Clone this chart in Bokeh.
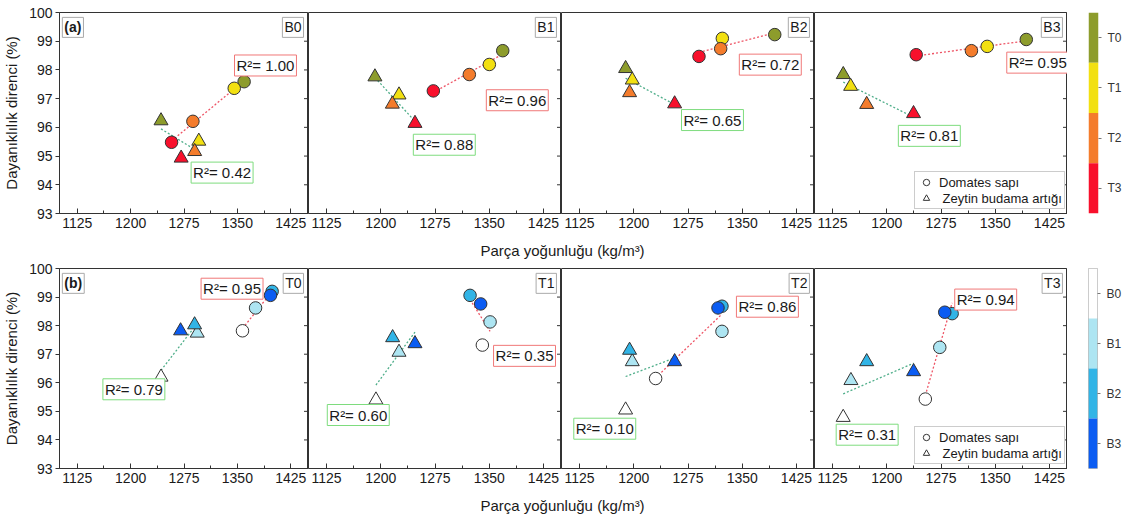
import numpy as np
from bokeh.plotting import figure
from bokeh.models import Range1d, FixedTicker, Label, Legend, LegendItem, FactorRange
from bokeh.layouts import row, column
from bokeh.embed import file_html
from bokeh.resources import INLINE

FONT = "Liberation Sans"

# ---------------- data ----------------
x_ticks = [1125, 1200, 1275, 1350, 1425]
y_ticks = [93, 94, 95, 96, 97, 98, 99, 100]
x_title = "Parça yoğunluğu (kg/m³)"
y_title = "Dayanıklılık direnci (%)"
legend_labels = ["Domates sapı", "Zeytin budama artığı"]

# row (a): panels by B level, points coloured by T level (T0..T3)
a_panels = ["B0", "B1", "B2", "B3"]
a_levels = ["T0", "T1", "T2", "T3"]
a_colors = ["#8D9C2C", "#F2E011", "#F47C2C", "#F8102C"]
a_circ_x = [[1359.5, 1345.6, 1287.5, 1257.5],
            [1368.7, 1350.2, 1322.5, 1272.7],
            [1395.0, 1322.5, 1320.2, 1290.2],
            [1393.0, 1338.9, 1317.1, 1240.7]]
a_circ_y = [[97.59, 97.36, 96.21, 95.48],
            [98.67, 98.19, 97.84, 97.27],
            [99.23, 99.10, 98.74, 98.47],
            [99.06, 98.82, 98.67, 98.53]]
a_tri_x = [[1242.7, 1295.8, 1290.0, 1271.0],
           [1191.9, 1225.2, 1216.0, 1247.3],
           [1188.7, 1197.9, 1194.2, 1256.5],
           [1139.8, 1150.0, 1172.2, 1237.0]]
a_tri_y = [[96.23, 95.52, 95.16, 94.93],
           [97.76, 97.13, 96.81, 96.14],
           [98.05, 97.65, 97.21, 96.82],
           [97.84, 97.43, 96.80, 96.48]]
a_r2_circ = [1.00, 0.96, 0.72, 0.95]
a_r2_tri = [0.42, 0.88, 0.65, 0.81]

# row (b): panels by T level, points coloured by B level (B0..B3)
b_panels = ["T0", "T1", "T2", "T3"]
b_levels = ["B0", "B1", "B2", "B3"]
b_colors = ["#FFFFFF", "#ADE5F2", "#31B4E6", "#0B5CF2"]
b_circ_x = [[1357.2, 1375.6, 1398.9, 1396.6],
            [1340.5, 1351.2, 1323.5, 1338.2],
            [1230.2, 1322.0, 1322.0, 1316.5],
            [1253.3, 1273.3, 1290.4, 1280.2]]
b_circ_y = [[97.82, 98.62, 99.20, 99.06],
            [97.32, 98.13, 99.06, 98.76],
            [96.15, 97.80, 98.68, 98.62],
            [95.43, 97.24, 98.42, 98.47]]
b_tri_x = [[1242.7, 1293.6, 1289.9, 1270.2],
           [1193.3, 1225.2, 1216.4, 1247.3],
           [1188.7, 1197.9, 1194.2, 1256.5],
           [1139.7, 1150.4, 1172.2, 1237.1]]
b_tri_y = [[96.20, 97.74, 98.03, 97.82],
           [95.40, 97.07, 97.58, 97.37],
           [95.05, 96.74, 97.14, 96.74],
           [94.79, 96.08, 96.74, 96.39]]
b_r2_circ = [0.95, 0.35, 0.86, 0.94]
b_r2_tri = [0.79, 0.60, 0.10, 0.31]

# ---------------- annotation placement (data coords, top-left of box) ----------------
a_circ_pos = [(1346, 98.52), (1346, 97.31), (1346, 98.55), (1366, 98.62)]
a_tri_pos = [(1285, 94.79), (1245, 95.76), (1266, 96.62), (1216, 96.07)]
b_circ_pos = [(1299, 99.66), (1356, 97.31), (1342, 99.03), (1294, 99.28)]
b_tri_pos = [(1161, 96.14), (1126, 95.24), (1117, 94.76), (1130, 94.55)]

XR = (1100, 1450)
YR = (93, 100)
PANEL_W = 253
LEFT_W = 55
INK = "#333333"
TXT = "#1a1a1a"
RED_LINE = "#EE5566"
GRN_LINE = "#4FAE8A"
RED_BOX = "#F07878"
GRN_BOX = "#7EDC7E"


def fit(xs, ys):
    k, b = np.polyfit(xs, ys, 1)
    x0, x1 = min(xs), max(xs)
    return [x0, x1], [k * x0 + b, k * x1 + b]


def box_label(p, x, y, text, border, align="left", bold=False, size="15px"):
    p.add_layout(Label(x=x, y=y, text=text, text_align=align, text_baseline="top",
                       text_font=FONT, text_font_size=size, text_color=TXT,
                       text_font_style="bold" if bold else "normal",
                       border_line_color=border, border_line_width=1,
                       background_fill_color="white", padding=2))


def make_panel(i, first, top, height, panel_name, colors, cx, cy, tx, ty,
               r2c, r2t, cpos, tpos, tag, legend):
    w = LEFT_W + PANEL_W if first else PANEL_W
    p = figure(width=w, height=height, x_range=Range1d(*XR), y_range=Range1d(*YR),
               output_backend="svg", toolbar_location=None, tools="",
               x_axis_location="below", y_axis_location="left" if first else None,
               min_border_left=LEFT_W if first else 0, min_border_right=0,
               min_border_top=top, min_border_bottom=25,
               background_fill_color="white", border_fill_color="white")
    p.outline_line_color = INK
    p.outline_line_width = 1
    p.xgrid.visible = False
    p.ygrid.visible = False

    xa = p.xaxis[0]
    minors = [t + 37.5 for t in x_ticks] + [x_ticks[0] - 37.5]
    xa.ticker = FixedTicker(ticks=x_ticks, minor_ticks=minors)
    xa.major_tick_in = 5
    xa.major_tick_out = 0
    xa.minor_tick_in = 3
    xa.minor_tick_out = 0
    xa.axis_line_color = INK
    xa.major_tick_line_color = INK
    xa.minor_tick_line_color = INK
    xa.major_label_text_font = FONT
    xa.major_label_text_font_size = "14px"
    xa.major_label_text_color = TXT
    xa.major_label_standoff = 4

    if first:
        ya = p.yaxis[0]
        ya.ticker = FixedTicker(ticks=y_ticks)
        ya.major_tick_in = 0
        ya.major_tick_out = 4
        ya.minor_tick_line_color = None
        ya.axis_line_color = INK
        ya.major_tick_line_color = INK
        ya.major_label_text_font = FONT
        ya.major_label_text_font_size = "14px"
        ya.major_label_text_color = TXT
        ya.major_label_standoff = 3
        ya.axis_label = y_title
        ya.axis_label_text_font = FONT
        ya.axis_label_text_font_size = "15px"
        ya.axis_label_text_font_style = "normal"
        ya.axis_label_text_color = TXT
        ya.axis_label_standoff = 6

    # inward tick marks along the right frame edge (half of each dash is cut by the frame)
    p.scatter([XR[1]] * len(y_ticks), y_ticks, marker="dash", size=9,
              line_color=INK, line_width=1)

    # trend lines (least-squares fits of each series)
    lx, ly = fit(cx, cy)
    p.line(lx, ly, line_color=RED_LINE, line_dash="2 2", line_width=1.3)
    lx, ly = fit(tx, ty)
    p.line(lx, ly, line_color=GRN_LINE, line_dash="2 2", line_width=1.3)

    p.scatter(tx, ty, marker="triangle", size=14, fill_color=colors,
              line_color=INK, line_width=1)
    p.scatter(cx, cy, marker="circle", size=12.5, fill_color=colors,
              line_color=INK, line_width=1)

    box_label(p, cpos[0], cpos[1], f"R²= {r2c:.2f}", RED_BOX)
    box_label(p, tpos[0], tpos[1], f"R²= {r2t:.2f}", GRN_BOX)
    box_label(p, 1443, 99.83, panel_name, "#AAAAAA", align="right", size="14px")
    if first:
        box_label(p, 1104, 99.83, tag, "#AAAAAA", bold=True, size="14px")

    if legend:
        r1 = p.scatter([np.nan], [np.nan], marker="circle", size=12, fill_color="white",
                       line_color=INK, line_width=1)
        r2 = p.scatter([np.nan], [np.nan], marker="triangle", size=14, fill_color="white",
                       line_color=INK, line_width=1)
        lg = Legend(items=[LegendItem(label=legend_labels[0], renderers=[r1]),
                           LegendItem(label=" " + legend_labels[1], renderers=[r2])],
                    location=(100, 4), orientation="vertical",
                    label_text_font=FONT, label_text_font_size="13px", label_text_color=TXT,
                    glyph_height=16, glyph_width=18, label_height=15, label_standoff=4,
                    spacing=0, padding=2, margin=0,
                    border_line_color="#999999", background_fill_color="white",
                    background_fill_alpha=1.0)
        p.add_layout(lg, "center")
    return p


def make_cbar(levels, colors, height, top, bottom, outline):
    cb = figure(width=57, height=height, x_range=Range1d(0, 1),
                y_range=FactorRange(factors=list(reversed(levels))),
                output_backend="svg", toolbar_location=None, tools="",
                x_axis_location=None, y_axis_location="right",
                min_border_left=21, min_border_right=22,
                min_border_top=top, min_border_bottom=bottom)
    cb.hbar(y=levels, left=0, right=1, height=1, fill_color=colors, line_color=None)
    cb.outline_line_color = outline
    cb.xgrid.visible = False
    cb.ygrid.visible = False
    ax = cb.yaxis[0]
    ax.axis_line_color = None
    ax.major_tick_out = 3
    ax.major_tick_in = 0
    ax.major_tick_line_color = "#777777"
    ax.major_label_text_font = FONT
    ax.major_label_text_font_size = "12px"
    ax.major_label_text_color = "#333333"
    ax.major_label_standoff = 6
    return cb


def make_strip(height):
    s = figure(width=1124, height=height, x_range=Range1d(0, 1124), y_range=Range1d(0, height),
               output_backend="svg", toolbar_location=None, tools="",
               x_axis_location=None, y_axis_location=None, min_border=0)
    s.outline_line_color = None
    s.xgrid.visible = False
    s.ygrid.visible = False
    s.add_layout(Label(x=562, y=height / 2, text=x_title, text_align="center",
                       text_baseline="middle", text_font=FONT, text_font_size="15px",
                       text_color=TXT))
    return s


row_a = []
for i in range(4):
    row_a.append(make_panel(i, i == 0, 10, 238, a_panels[i], a_colors,
                            a_circ_x[i], a_circ_y[i], a_tri_x[i], a_tri_y[i],
                            a_r2_circ[i], a_r2_tri[i], a_circ_pos[i], a_tri_pos[i],
                            "(a)", i == 3))
row_a.append(make_cbar(a_levels, a_colors, 238, 12, 24, None))

row_b = []
for i in range(4):
    row_b.append(make_panel(i, i == 0, 3, 231, b_panels[i], b_colors,
                            b_circ_x[i], b_circ_y[i], b_tri_x[i], b_tri_y[i],
                            b_r2_circ[i], b_r2_tri[i], b_circ_pos[i], b_tri_pos[i],
                            "(b)", i == 3))
row_b.append(make_cbar(b_levels, b_colors, 231, 6, 20, "#BBBBBB"))

layout = column(row(*row_a, spacing=0), make_strip(24), row(*row_b, spacing=0), make_strip(24),
                spacing=0)

open("out.html", "w").write(file_html(layout, INLINE))
